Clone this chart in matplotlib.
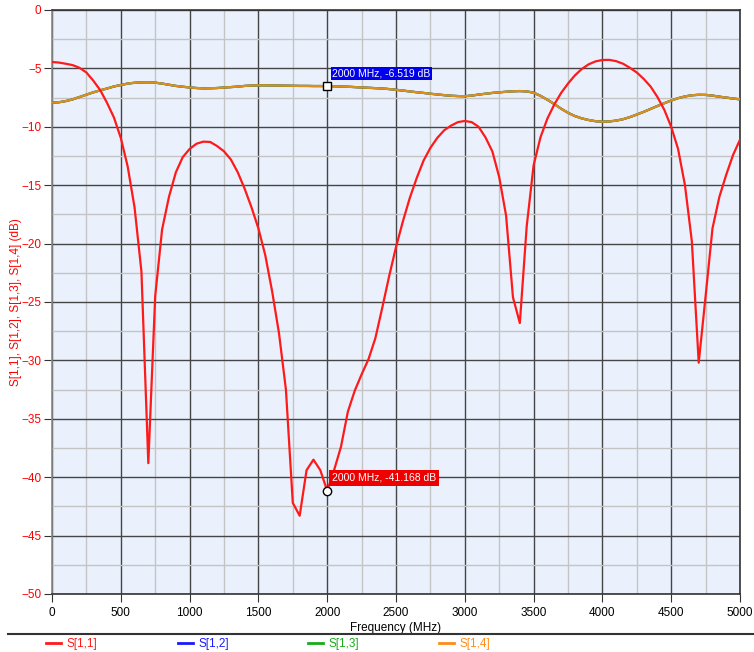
import numpy as np
import matplotlib.pyplot as plt
from matplotlib.lines import Line2D
from matplotlib.ticker import MultipleLocator

plt.rcParams['font.family'] = ['Liberation Sans', 'DejaVu Sans']
plt.rcParams['font.size'] = 8.5

# sweep points, MHz (50 MHz step, 0..5000)
freq = np.arange(0, 5001, 50)

# S[1,1] dB
s11 = [-4.45, -4.5, -4.6, -4.72, -4.95, -5.35, -6.05, -6.85, -7.95, -9.2,
       -10.95, -13.4, -16.9, -22.4, -38.8, -24.5, -18.8, -16.0, -13.9, -12.6,
       -11.9, -11.45, -11.27, -11.3, -11.65, -12.1, -12.8, -13.9, -15.3, -16.9,
       -18.7, -21.0, -24.1, -27.7, -32.5, -42.2, -43.3, -39.4, -38.5, -39.4,
       -41.168, -39.4, -37.4, -34.4, -32.6, -31.2, -29.9, -28.1, -25.5, -22.8,
       -20.3, -18.1, -16.1, -14.4, -12.9, -11.8, -10.95, -10.3, -9.9, -9.6,
       -9.5, -9.6, -10.0, -10.9, -12.1, -14.3, -17.6, -24.6, -26.8, -18.5,
       -13.3, -10.9, -9.3, -8.1, -7.1, -6.3, -5.6, -5.05, -4.65, -4.4,
       -4.28, -4.27, -4.38, -4.6, -4.95, -5.35, -5.9, -6.55, -7.45, -8.55,
       -10.0, -11.9, -15.0, -19.8, -30.2, -24.5, -18.7, -16.0, -14.1, -12.4,
       -11.1]

# S[1,2] = S[1,3] = S[1,4] dB
s1x = [-7.93, -7.9, -7.8, -7.65, -7.45, -7.25, -7.05, -6.88, -6.72, -6.55,
       -6.42, -6.3, -6.23, -6.2, -6.19, -6.22, -6.3, -6.4, -6.5, -6.57,
       -6.63, -6.68, -6.71, -6.7, -6.68, -6.64, -6.6, -6.56, -6.5, -6.47,
       -6.45, -6.45, -6.46, -6.47, -6.48, -6.49, -6.5, -6.5, -6.51, -6.51,
       -6.519, -6.53, -6.55, -6.57, -6.6, -6.63, -6.66, -6.69, -6.72, -6.77,
       -6.83, -6.9, -6.97, -7.04, -7.1, -7.17, -7.23, -7.29, -7.34, -7.37,
       -7.38, -7.33, -7.24, -7.17, -7.1, -7.05, -7.0, -6.96, -6.94, -6.97,
       -7.08, -7.35, -7.68, -8.05, -8.45, -8.8, -9.08, -9.28, -9.42, -9.52,
       -9.56, -9.54, -9.47, -9.35, -9.17, -8.95, -8.72, -8.47, -8.22, -7.98,
       -7.75, -7.55, -7.4, -7.3, -7.26, -7.27, -7.33, -7.42, -7.5, -7.58,
       -7.65]

names = ['S[1,1]', 'S[1,2]', 'S[1,3]', 'S[1,4]']
colors = ['#FF1A1A', '#1A1AFF', '#1AAA1A', '#FF8C1A']

fig = plt.figure(figsize=(7.54, 6.52), dpi=100)
ax = fig.add_axes([52/754, 1-594/652, 688/754, 584/652])
ax.set_facecolor('#EAF1FD')

ax.plot(freq, s11, color=colors[0], lw=1.6, zorder=4)
ax.plot(freq, s1x, color=colors[1], lw=1.6, zorder=3)
ax.plot(freq, s1x, color=colors[2], lw=1.6, zorder=3)
ax.plot(freq, s1x, color=colors[3], lw=1.6, alpha=0.85, zorder=3)

ax.set_xlim(0, 5000)
ax.set_ylim(-50, 0)
ax.xaxis.set_major_locator(MultipleLocator(500))
ax.xaxis.set_minor_locator(MultipleLocator(250))
ax.yaxis.set_major_locator(MultipleLocator(5))
ax.yaxis.set_minor_locator(MultipleLocator(2.5))
ax.grid(which='major', color='#454545', lw=1.0)
ax.grid(which='minor', color='#C4C4C4', lw=1.0)
ax.set_axisbelow(True)
ax.tick_params(which='major', length=6, color='#333333')
ax.tick_params(which='minor', length=0)
ax.tick_params(axis='y', labelcolor='red', pad=1.5)
for s in ax.spines.values():
    s.set_color('#333333')
    s.set_linewidth(1.2)
ax.spines['left'].set_color('#888888')

ax.set_xlabel('Frequency (MHz)', labelpad=2)
ax.set_ylabel('S[1,1], S[1,2], S[1,3], S[1,4] (dB)', color='red')
ax.yaxis.set_label_coords(-30/688, 0.5)

# markers
ax.plot([2000], [-6.519], marker='s', ms=6, mfc='white', mec='black', zorder=6)
ax.annotate('2000 MHz, -6.519 dB', xy=(2000, -6.519), xytext=(5, 8),
            textcoords='offset pixels', ha='left', va='bottom', color='white', fontsize=7.5,
            bbox=dict(boxstyle='square,pad=0.15', fc='#0000EE', ec='none'), zorder=7)
ax.plot([2000], [-41.168], marker='o', ms=6, mfc='white', mec='black', zorder=6)
ax.annotate('2000 MHz, -41.168 dB', xy=(2000, -41.168), xytext=(5, 8),
            textcoords='offset pixels', ha='left', va='bottom', color='white', fontsize=7.5,
            bbox=dict(boxstyle='square,pad=0.3', fc='#EE0000', ec='none'), zorder=7)

# legend strip
fig.add_artist(Line2D([8/754, 1], [1-634/652, 1-634/652], color='#333333', lw=1.5))
legx = [46, 178, 308, 439]
for name, c, x in zip(names, colors, legx):
    leg = fig.legend([Line2D([], [], color=c, lw=2)], [name], loc='center left',
                     bbox_to_anchor=(x/754, 1-644/652), frameon=False, handlelength=1.3,
                     handletextpad=0.4, borderpad=0, borderaxespad=0)
    for t in leg.get_texts():
        t.set_color(c)

fig.savefig('out.png', dpi=100)
